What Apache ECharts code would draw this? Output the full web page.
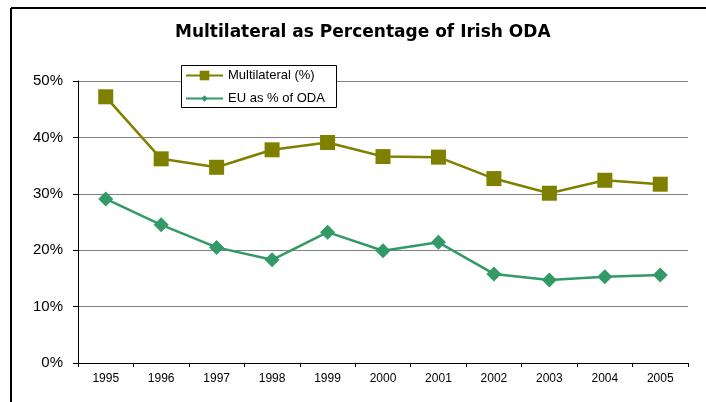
<!DOCTYPE html>
<html>
<head>
<meta charset="utf-8">
<script src="https://cdn.jsdelivr.net/npm/echarts@6/dist/echarts.min.js"></script>
<style>
html,body{margin:0;padding:0;background:#fff;}
#chart{width:706px;height:402px;}
</style>
</head>
<body>
<div id="chart"></div>
<script>
var years = ['1995','1996','1997','1998','1999','2000','2001','2002','2003','2004','2005'];
var multilateral = [47.2, 36.2, 34.7, 37.8, 39.1, 36.6, 36.5, 32.7, 30.1, 32.4, 31.7];
var euShare = [29.1, 24.5, 20.5, 18.3, 23.2, 19.9, 21.4, 15.8, 14.7, 15.3, 15.6];
var yTicks = [0, 10, 20, 30, 40, 50];
var titleText = 'Multilateral as Percentage of Irish ODA';
var seriesNames = ['Multilateral (%)', 'EU as % of ODA'];

var chart = echarts.init(document.getElementById('chart'), null, {renderer: 'canvas'});
var option = {
  animation: false,
  backgroundColor: '#fff',
  title: {
    text: titleText,
    left: 175,
    top: 24,
    padding: 0,
    textStyle: {fontFamily: 'DejaVu Sans', fontWeight: 'bold', fontSize: 17, color: '#000'}
  },
  graphic: [
    {type: 'line', z: 100, shape: {x1: 11, y1: 8, x2: 706, y2: 8}, style: {stroke: '#000', lineWidth: 2}},
    {type: 'line', z: 100, shape: {x1: 11, y1: 8, x2: 11, y2: 402}, style: {stroke: '#000', lineWidth: 2}},
    {type: 'rect', z: 10, shape: {x: 181.5, y: 65.5, width: 155, height: 42}, style: {fill: '#fff', stroke: '#000', lineWidth: 1}}
  ],
  legend: [
    {
      z: 20, data: [seriesNames[0]], left: 185, top: 69, padding: 0,
      itemWidth: 37, itemHeight: 12, itemGap: 4,
      textStyle: {fontFamily: 'Liberation Sans', fontSize: 13, color: '#000'}
    },
    {
      z: 20, data: [seriesNames[1]], left: 185, top: 92, padding: 0,
      itemWidth: 37, itemHeight: 8, itemGap: 4,
      textStyle: {fontFamily: 'Liberation Sans', fontSize: 13, color: '#000'}
    }
  ],
  grid: {left: 78, right: 18, top: 81, bottom: 39, containLabel: false},
  xAxis: {
    type: 'category',
    data: years,
    boundaryGap: true,
    axisLine: {lineStyle: {color: '#000', width: 1}},
    axisTick: {show: true, inside: false, length: 4, lineStyle: {color: '#000'}},
    axisLabel: {fontFamily: 'Liberation Sans', fontSize: 12, color: '#000', margin: 10},
    splitLine: {show: false}
  },
  yAxis: {
    type: 'value',
    min: yTicks[0],
    max: yTicks[yTicks.length - 1],
    interval: 10,
    axisLine: {show: true, lineStyle: {color: '#000', width: 1}},
    axisTick: {show: true, inside: false, length: 5, lineStyle: {color: '#000'}},
    axisLabel: {fontFamily: 'Liberation Sans', fontSize: 15, color: '#000', margin: 15, formatter: '{value}%'},
    splitLine: {show: true, lineStyle: {color: '#808080', width: 1}}
  },
  series: [
    {
      name: seriesNames[0], type: 'line', data: multilateral,
      symbol: 'rect', symbolSize: 15,
      lineStyle: {color: '#808000', width: 2.5},
      itemStyle: {color: '#808000'}
    },
    {
      name: seriesNames[1], type: 'line', data: euShare,
      symbol: 'diamond', symbolSize: 15,
      lineStyle: {color: '#339966', width: 2.5},
      itemStyle: {color: '#339966'}
    }
  ]
};
chart.setOption(option);
</script>
</body>
</html>
